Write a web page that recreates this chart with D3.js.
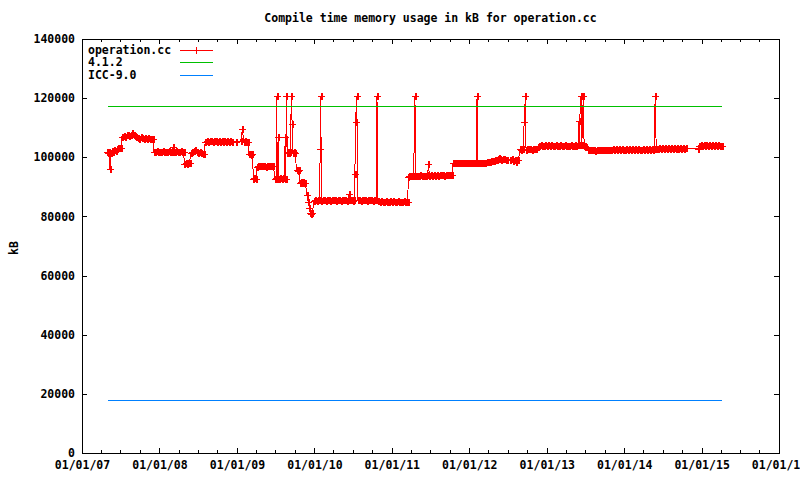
<!DOCTYPE html>
<html><head><meta charset="utf-8">
<script src="https://cdn.jsdelivr.net/npm/d3@7"></script>
<style>
body{margin:0;background:#fff}
svg{display:block}
text{font-family:"DejaVu Sans Mono",monospace;font-weight:bold;font-size:11.5px;fill:#000}
</style>
</head><body>
<svg id="chart" width="800" height="480"></svg>
<script>
const title = "Compile time memory usage in kB for operation.cc";
const yLabel = "kB";
const seriesName = "operation.cc";

const dates = [
"2007-04-28","2007-05-04","2007-05-10","2007-05-13","2007-05-16","2007-05-22","2007-05-28","2007-06-03",
"2007-06-09","2007-06-15","2007-06-21","2007-06-27","2007-07-03","2007-07-06","2007-07-09","2007-07-16",
"2007-07-23","2007-07-30","2007-08-06","2007-08-13","2007-08-20","2007-08-26","2007-09-01","2007-09-08",
"2007-09-15","2007-09-22","2007-09-29","2007-10-06","2007-10-13","2007-10-20","2007-10-27","2007-11-03",
"2007-11-10","2007-11-17","2007-11-24","2007-12-01","2007-12-05","2007-12-12","2007-12-19","2007-12-26",
"2008-01-02","2008-01-09","2008-01-16","2008-01-23","2008-01-30","2008-02-06","2008-02-13","2008-02-20",
"2008-02-27","2008-03-03","2008-03-07","2008-03-14","2008-03-21","2008-03-28","2008-04-04","2008-04-11",
"2008-04-18","2008-04-24","2008-04-28","2008-05-04","2008-05-10","2008-05-16","2008-05-22","2008-05-28",
"2008-06-04","2008-06-11","2008-06-18","2008-06-25","2008-07-02","2008-07-09","2008-07-16","2008-07-23",
"2008-07-30","2008-08-04","2008-08-11","2008-08-18","2008-08-25","2008-09-01","2008-09-08","2008-09-15",
"2008-09-22","2008-09-29","2008-10-06","2008-10-13","2008-10-20","2008-10-27","2008-11-03","2008-11-10",
"2008-11-17","2008-11-24","2008-12-01","2008-12-08","2008-12-26",
"2009-01-18","2009-01-26","2009-02-02","2009-02-09","2009-02-14","2009-02-21","2009-02-26","2009-03-04",
"2009-03-10","2009-03-15","2009-03-19","2009-03-24","2009-03-30","2009-04-05","2009-04-12","2009-04-19",
"2009-04-26","2009-05-03","2009-05-10","2009-05-17","2009-05-24","2009-05-31","2009-06-07","2009-06-14",
"2009-06-21","2009-06-30","2009-07-04","2009-07-07","2009-07-10","2009-07-14","2009-07-18","2009-07-25",
"2009-08-01","2009-08-08","2009-08-13","2009-08-16","2009-08-19","2009-08-22","2009-08-26","2009-08-31",
"2009-09-05","2009-09-10","2009-09-14","2009-09-18","2009-09-22","2009-09-27","2009-10-02","2009-10-09",
"2009-10-14","2009-10-19","2009-10-25","2009-10-30","2009-11-04","2009-11-09","2009-11-14","2009-11-19",
"2009-11-27","2009-12-03","2009-12-08","2009-12-13","2009-12-18","2009-12-23","2009-12-29",
"2010-01-05","2010-01-12","2010-01-19","2010-01-26","2010-01-28","2010-01-31","2010-02-03","2010-02-10",
"2010-02-17","2010-02-24","2010-03-03","2010-03-10","2010-03-17","2010-03-24","2010-03-31","2010-04-07",
"2010-04-14","2010-04-21","2010-04-28","2010-05-05","2010-05-12","2010-05-19","2010-05-26","2010-06-02",
"2010-06-09","2010-06-14","2010-06-18","2010-06-25","2010-07-02","2010-07-08","2010-07-11","2010-07-14",
"2010-07-20","2010-07-24","2010-07-31","2010-08-07","2010-08-14","2010-08-21","2010-08-28","2010-09-04",
"2010-09-11","2010-09-18","2010-09-25","2010-10-02","2010-10-09","2010-10-16","2010-10-19","2010-10-23",
"2010-10-27","2010-11-05","2010-11-12","2010-11-19","2010-11-26","2010-12-03","2010-12-10","2010-12-17",
"2010-12-24",
"2011-01-01","2011-01-08","2011-01-15","2011-01-22","2011-01-29","2011-02-05","2011-02-12","2011-02-19",
"2011-02-26","2011-03-05","2011-03-12","2011-03-17","2011-03-20","2011-03-24","2011-03-31","2011-04-07",
"2011-04-14","2011-04-20","2011-04-24","2011-05-01","2011-05-08","2011-05-15","2011-05-22","2011-05-29",
"2011-06-05","2011-06-12","2011-06-19","2011-06-23","2011-06-27","2011-07-04","2011-07-11","2011-07-18",
"2011-07-25","2011-08-01","2011-08-08","2011-08-15","2011-08-22","2011-08-29","2011-09-05","2011-09-12",
"2011-09-19","2011-09-26","2011-10-03","2011-10-10","2011-10-17","2011-10-24","2011-10-31","2011-11-07",
"2011-11-14","2011-11-21","2011-11-28","2011-12-05","2011-12-12","2011-12-19","2011-12-26",
"2012-01-02","2012-01-09","2012-01-16","2012-01-23","2012-01-30","2012-02-05","2012-02-07","2012-02-10",
"2012-02-17","2012-02-24","2012-03-02","2012-03-09","2012-03-16","2012-03-23","2012-03-30","2012-04-06",
"2012-04-13","2012-04-20","2012-04-27","2012-05-04","2012-05-11","2012-05-18","2012-05-22","2012-05-25",
"2012-06-01","2012-06-08","2012-06-15","2012-06-22","2012-06-29","2012-07-12","2012-07-19","2012-07-26",
"2012-08-05","2012-08-10","2012-08-14","2012-08-20","2012-08-29","2012-09-03","2012-09-08","2012-09-13",
"2012-09-16","2012-09-22","2012-09-25","2012-10-01","2012-10-08","2012-10-15","2012-10-22","2012-10-29",
"2012-11-05","2012-11-12","2012-11-19","2012-11-26","2012-12-03","2012-12-10","2012-12-17","2012-12-24",
"2013-01-01","2013-01-08","2013-01-15","2013-01-22","2013-01-29","2013-02-05","2013-02-12","2013-02-19",
"2013-02-26","2013-03-05","2013-03-12","2013-03-19","2013-03-26","2013-04-02","2013-04-09","2013-04-16",
"2013-04-23","2013-04-30","2013-05-07","2013-05-14","2013-05-21","2013-05-28","2013-06-02","2013-06-05",
"2013-06-07","2013-06-11","2013-06-15","2013-06-22","2013-06-26","2013-07-01","2013-07-07","2013-07-13",
"2013-07-20","2013-07-27","2013-08-03","2013-08-10","2013-08-17","2013-08-24","2013-08-31","2013-09-07",
"2013-09-14","2013-09-21","2013-09-28","2013-10-05","2013-10-12","2013-10-19","2013-10-26","2013-11-02",
"2013-11-09","2013-11-16","2013-11-23","2013-11-30","2013-12-07","2013-12-14","2013-12-21","2013-12-28",
"2014-01-04","2014-01-11","2014-01-18","2014-01-25","2014-02-01","2014-02-08","2014-02-15","2014-02-22",
"2014-03-01","2014-03-08","2014-03-15","2014-03-22","2014-03-29","2014-04-05","2014-04-12","2014-04-19",
"2014-04-26","2014-05-03","2014-05-10","2014-05-17","2014-05-22","2014-05-27","2014-06-01","2014-06-08",
"2014-06-15","2014-06-22","2014-06-29","2014-07-06","2014-07-13","2014-07-20","2014-07-27","2014-08-03",
"2014-08-10","2014-08-17","2014-08-24","2014-08-31","2014-09-07","2014-09-14","2014-09-21","2014-09-28",
"2014-10-05","2014-10-12","2014-10-19","2014-12-14","2014-12-20","2014-12-27",
"2015-01-03","2015-01-10","2015-01-17","2015-01-24","2015-01-31","2015-02-07","2015-02-14","2015-02-21",
"2015-02-28","2015-03-07","2015-03-14","2015-03-21","2015-03-28","2015-04-02","2015-04-08"
];

const memKB = [
101700,101500,101800,96200,101600,102000,101800,102300,
102000,102800,103200,103000,103300,103100,106800,107200,
107000,107400,107600,107300,107500,108100,107400,107200,
106800,106600,106300,106700,106500,106200,106400,106200,
106400,106200,106300,106300,101800,101900,102000,101800,
101900,101700,102000,101800,101900,101800,102000,101900,
101800,103400,101900,101800,102000,101900,101800,102000,
101900,101800,97800,98000,97700,98000,97900,101500,
101900,102100,102400,101800,101600,101900,101300,101000,
101100,105300,105500,105200,105400,105600,105300,105400,
105500,105300,105400,105200,105400,105300,105500,105200,
105400,105300,105500,105300,105300,
105400,109400,105300,105500,105200,105300,101000,101200,
100800,101000,92800,93000,92700,96800,97000,96900,
97100,96900,97000,96800,97000,96900,97100,96900,
97000,92800,92900,120700,92800,106900,92700,92900,
92800,92900,92700,106900,92800,120700,101500,101800,
101400,101700,120700,111400,101600,101800,101500,95600,
95400,95700,91300,91500,91300,91600,91400,91200,
87400,84900,82800,81000,80800,81000,85300,
85500,85300,85400,85400,102900,120700,85300,85500,
85400,85300,85400,85500,85300,85400,85500,85400,
85300,85500,85400,85300,85400,85500,85400,85300,
85400,87500,85400,85500,85300,85400,94300,111900,
120700,85400,85500,85300,85400,85500,85400,85300,
85400,85500,85400,85300,85400,85500,85400,120700,
85100,85000,85100,85000,84900,85100,85000,84900,
85100,
85000,85100,84900,85000,85100,85000,84900,85000,
85100,85000,85000,85000,93400,93600,93700,93800,
93600,120700,93700,93800,93700,93900,93700,93800,
93600,93800,93900,97600,93800,93900,93700,94000,
93800,94000,93800,94100,93900,94000,93800,94100,
93900,94000,94100,94000,98000,98100,98200,98000,
98200,98100,98000,98200,98100,98000,98200,
98100,98000,98200,98100,98000,98100,120700,98000,
98200,98100,98000,98200,98100,98300,98500,98400,
98600,98800,98700,99000,99200,99400,99800,99300,
99200,99400,99300,99200,99200,99100,99300,98900,
99200,98300,99200,99100,102800,102600,102900,102700,
112000,120700,102600,102800,102700,102900,102600,102800,
102700,102900,103600,103800,104100,103700,103900,104300,
103800,104000,103700,104100,103800,103900,104000,103700,
103900,104000,103800,103900,104100,103800,103900,103700,
104000,103800,103900,104100,103800,104000,112200,104000,
117500,120700,104000,120700,103900,103700,103400,102500,
102300,102500,102300,102400,102200,102400,102300,102500,
102300,102400,102600,102300,102500,102400,102600,102600,
102700,102500,102700,102600,102700,102500,102700,102600,
102600,102700,102500,102700,102600,102700,102500,102700,
102600,102700,102600,102500,102700,102600,102700,102500,
102700,102600,102700,102600,102700,120700,102800,102900,
103000,102900,103000,102900,103000,102900,103000,102900,
103000,102900,103000,102900,103000,102900,103000,102900,
103000,102900,103000,102900,103800,104000,
103900,104000,103800,104000,103900,104000,103800,104000,
103900,104000,103800,104000,103900,103800,103800
];

const refNames = ["4.1.2", "ICC-9.0"];
const refValues = [117500, 18000];
const refSpan = ["2007-05-04", "2015-04-08"];

const xDomain = ["2007-01-01", "2016-01-01"];
const yTicks = [0, 20000, 40000, 60000, 80000, 100000, 120000, 140000];

if (dates.length !== memKB.length) console.error("length mismatch", dates.length, memKB.length);

const parse = d3.utcParse("%Y-%m-%d");
const L = 82, R = 779, T = 39, B = 453;
const svg = d3.select("#chart");

const x = d3.scaleUtc().domain(xDomain.map(parse)).range([L, R]);
const y = d3.scaleLinear().domain([0, 140000]).range([B, T]);

const majorX = d3.utcYear.range(parse(xDomain[0]), d3.utcDay.offset(parse(xDomain[1]), 1));
const minorX = d3.utcMonth.every(3).range(parse(xDomain[0]), parse(xDomain[1])).filter(d => d.getUTCMonth() !== 0);
const fmt = d3.utcFormat("%m/%d/%y");

const axes = svg.append("g").attr("shape-rendering", "crispEdges");

const gb = axes.append("g").attr("transform", `translate(0,${B})`)
  .call(d3.axisBottom(x).tickValues(majorX).tickFormat(fmt).tickSizeInner(-5).tickSizeOuter(0).tickPadding(8));
gb.select(".domain").remove();
axes.append("g").attr("transform", `translate(0,${B})`)
  .call(d3.axisBottom(x).tickValues(minorX).tickFormat("").tickSizeInner(-3).tickSizeOuter(0))
  .select(".domain").remove();
axes.append("g").attr("transform", `translate(0,${T})`)
  .call(d3.axisTop(x).tickValues(majorX).tickFormat("").tickSizeInner(-5).tickSizeOuter(0))
  .select(".domain").remove();
axes.append("g").attr("transform", `translate(0,${T})`)
  .call(d3.axisTop(x).tickValues(minorX).tickFormat("").tickSizeInner(-3).tickSizeOuter(0))
  .select(".domain").remove();
const gl = axes.append("g").attr("transform", `translate(${L},0)`)
  .call(d3.axisLeft(y).tickValues(yTicks).tickFormat(d3.format("d")).tickSizeInner(-5).tickSizeOuter(0).tickPadding(7));
gl.select(".domain").remove();
axes.append("g").attr("transform", `translate(${R},0)`)
  .call(d3.axisRight(y).tickValues(yTicks).tickFormat("").tickSizeInner(-5).tickSizeOuter(0))
  .select(".domain").remove();

axes.selectAll(".tick line").attr("stroke", "#000");
axes.selectAll(".tick text").attr("fill", "#000").style("font-family", '"DejaVu Sans Mono",monospace')
  .style("font-size", "11.5px").style("font-weight", "bold");

axes.append("rect").attr("x", L + 0.5).attr("y", T + 0.5).attr("width", R - L).attr("height", B - T)
  .attr("fill", "none").attr("stroke", "#000");

// data line
const pts = dates.map((d, i) => ({ t: parse(d), v: memKB[i] }));
const line = d3.line().x(d => x(d.t)).y(d => y(d.v));
svg.append("path").datum(pts).attr("d", line).attr("fill", "none")
  .attr("stroke", "#ff0000").attr("stroke-width", 1).attr("shape-rendering", "crispEdges");

// '+' point markers (bitmap-style: 7px arms, vertical arm 2px wide)
function plusPath(cx, cy) {
  const px = Math.round(cx), py = Math.round(cy);
  return `M${px - 3},${py}h7v1h-7zM${px},${py - 3}h2v7h-2z`;
}
svg.append("path").attr("d", pts.map(d => plusPath(x(d.t), y(d.v))).join(""))
  .attr("fill", "#ff0000").attr("shape-rendering", "crispEdges");

const refColors = ["#00c000", "#0080ff"];
refValues.forEach((v, i) => {
  const yy = Math.round(y(v)) + 0.5;
  svg.append("line").attr("x1", x(parse(refSpan[0]))).attr("x2", x(parse(refSpan[1])))
    .attr("y1", yy).attr("y2", yy).attr("stroke", refColors[i]).attr("stroke-width", 1)
    .attr("shape-rendering", "crispEdges");
});

svg.append("text").attr("x", (L + R) / 2).attr("y", 18).attr("dy", "0.35em")
  .attr("text-anchor", "middle").text(title);
svg.append("text").attr("transform", "translate(14,248) rotate(-90)").attr("dy", "0.35em")
  .attr("text-anchor", "middle").text(yLabel);

const legNames = [seriesName].concat(refNames);
const legColors = ["#ff0000"].concat(refColors);
const lg = svg.append("g").attr("shape-rendering", "crispEdges");
legNames.forEach((n, i) => {
  const yy = 49.5 + i * 12.5;
  lg.append("text").attr("x", 88).attr("y", yy).attr("dy", "0.35em").text(n);
  const ly = Math.round(yy) + 0.5;
  lg.append("line").attr("x1", 180).attr("x2", 213).attr("y1", ly).attr("y2", ly)
    .attr("stroke", legColors[i]).attr("stroke-width", 1);
  if (i === 0) lg.append("path")
    .attr("d", `M196.5,${Math.round(yy) - 3}V${Math.round(yy) + 4}`)
    .attr("stroke", legColors[i]).attr("fill", "none");
});
</script>
</body></html>
